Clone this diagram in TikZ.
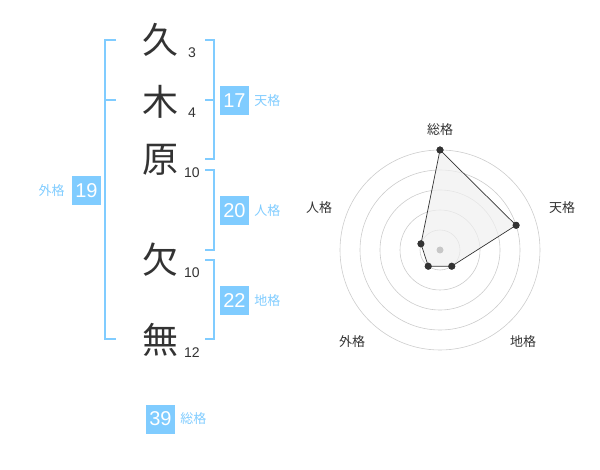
\documentclass[tikz,border=0pt]{standalone}
\usepackage{fontspec}
\setmainfont{Liberation Sans}
\newfontfamily\jp{Noto Sans CJK JP}
\usetikzlibrary{positioning}
\definecolor{kakublue}{RGB}{128,204,255}
\definecolor{inkgray}{RGB}{51,51,51}
\begin{document}
\begin{tikzpicture}
[x=1pt,y=-1pt,every node/.style={inner sep=0pt},
 kanji/.style={font=\jp\fontsize{36}{36}\selectfont,text=inkgray},
 strokes/.style={font=\fontsize{14}{14}\selectfont,text=inkgray},
 numbox/.style={fill=kakublue,text=white,minimum size=29pt,font=\fontsize{20}{20}\selectfont},
 kaku/.style={font=\jp\fontsize{13}{13}\selectfont,text=kakublue},
 bracket/.style={draw=kakublue,line width=2pt},
 ring/.style={draw=black!20,line width=.6pt},
 axislabel/.style={font=\jp\fontsize{13}{13}\selectfont,text=inkgray},
 dot/.style={circle,fill=inkgray,minimum size=7pt}]
\useasboundingbox (0,0) rectangle (600,470);
% name and stroke counts
\foreach \k/\n/\y/\ny in {久/3/40/53,木/4/102/113,原/10/160/173,欠/10/260/273,無/12/340/353}{
\node[kanji] (k\y) at (160,\y) {\k};
\node[strokes] (s\y) at (192,\ny) {\n};
}
% brackets
\draw[bracket] (116,40) -- (105,40) -- (105,339) -- (116,339);
\draw[bracket] (105,100) -- (116,100);
\draw[bracket] (205,40) -- (214,40) -- (214,159) -- (205,159);
\draw[bracket] (205,100) -- (214,100);
\draw[bracket] (205,170) -- (214,170) -- (214,250) -- (205,250);
\draw[bracket] (205,260) -- (214,260) -- (214,339) -- (205,339);
% scores
\node[numbox] (ten) at (234.5,100.5) {17};
\node[kaku,right=5pt of ten] (tenl) {天格};
\node[numbox] (jin) at (234.5,210.5) {20};
\node[kaku,right=5pt of jin] (jinl) {人格};
\node[numbox] (chi) at (234.5,300.5) {22};
\node[kaku,right=5pt of chi] (chil) {地格};
\node[numbox] (gai) at (86.5,190.5) {19};
\node[kaku,left=7pt of gai] (gail) {外格};
\node[numbox] (sou) at (160.5,419) {39};
\node[kaku,right=5pt of sou] (soul) {総格};
% radar
\begin{scope}[shift={(440,250)},x=1pt,y=1pt]
\foreach \r in {20,40,60,80,100}
\draw[ring] (0,0) circle (\r);
\node[dot] (psou) at (90:100) {};
\node[dot] (pten) at (18:80) {};
\node[dot] (pchi) at (-54:20) {};
\node[dot] (pgai) at (-126:20) {};
\node[dot] (pjin) at (162:20) {};
\draw[fill=black!6,fill opacity=.7,draw=inkgray,line width=.7pt] (psou.center) -- (pten.center) -- (pchi.center) -- (pgai.center) -- (pjin.center) -- cycle;
\fill[black!22] (0,0) circle (3.5);
\foreach \p in {psou,pten,pchi,pgai,pjin}
\fill[inkgray] (\p) circle (3.5);
\node[axislabel] (asou) at (0,120) {総格};
\node[axislabel] (aten) at (122,42) {天格};
\node[axislabel] (ajin) at (-121,42) {人格};
\node[axislabel] (agai) at (-88,-92) {外格};
\node[axislabel] (achi) at (83,-92) {地格};
\end{scope}
\end{tikzpicture}
\end{document}
